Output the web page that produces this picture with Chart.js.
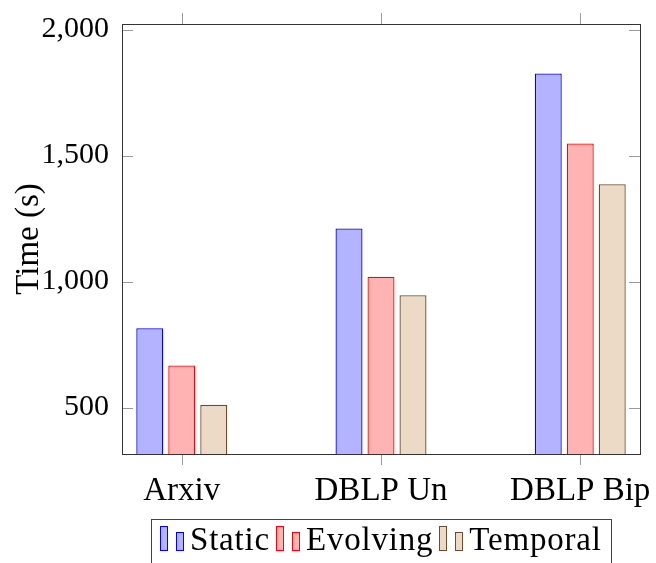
<!DOCTYPE html>
<html>
<head>
<meta charset="utf-8">
<script src="https://cdn.jsdelivr.net/npm/chart.js@4.4.1/dist/chart.umd.min.js"></script>
<style>
  html, body { margin: 0; padding: 0; background: #fff; }
  #wrap { position: relative; width: 656px; height: 563px; overflow: hidden; }
  #legend {
    position: absolute; left: 151px; top: 519px; width: 461px; height: 60px;
    border: 1px solid #444; box-sizing: border-box;
    font-family: "Liberation Serif", serif; font-size: 33px; color: #000;
    letter-spacing: 0.8px;
  }
  #legendRow {
    position: absolute; left: 8px; top: 0; height: 43px;
    display: flex; align-items: flex-end; white-space: nowrap;
  }
  .item { display: flex; align-items: flex-end; margin-right: 6px; }
  .b1, .b2 { box-sizing: border-box; width: 8px; border: 1px solid; margin-bottom: 12px; }
  .b1 { height: 25px; margin-right: 8px; }
  .b2 { height: 19px; margin-right: 6px; }
  .lbl { line-height: 33px; margin-bottom: 7px; }
</style>
</head>
<body>
<div id="wrap">
  <canvas id="c" width="656" height="563"></canvas>
  <div id="legend"><div id="legendRow"></div></div>
</div>
<script>
const categories = ["Arxiv", "DBLP Un", "DBLP Bip"];
const seriesNames = ["Static", "Evolving", "Temporal"];
const staticValues = [815, 1211, 1826];
const evolvingValues = [667, 1019, 1548];
const temporalValues = [511, 946, 1386];
const yTickValues = [500, 1000, 1500, 2000];
const yMin = 316, yMax = 2022;

const fills = ["#b3b3ff", "#ffb3b3", "#ecd9c6"];
const borders = ["#0000ff", "#ff0000", "#6e4c2a"];
const allValues = [staticValues, evolvingValues, temporalValues];

const datasets = allValues.map((vals, i) => ({
  label: seriesNames[i],
  data: vals.map((v, j) => ({ x: j, y: v })),
  backgroundColor: fills[i],
  borderColor: borders[i],
  borderWidth: 1.3,
  borderSkipped: 'start',
  barPercentage: 0.844,
  categoryPercentage: 0.4817
}));

const frame = {
  id: 'frame',
  afterDatasetsDraw(chart) {
    const { ctx, chartArea: a, scales } = chart;
    ctx.save();
    ctx.strokeStyle = '#9a9a9a';
    ctx.lineWidth = 1;
    ctx.beginPath();
    yTickValues.forEach(v => {
      const y = Math.round(scales.y.getPixelForValue(v)) + 0.5;
      ctx.moveTo(a.left, y); ctx.lineTo(a.left + 11, y);
      ctx.moveTo(a.right, y); ctx.lineTo(a.right - 11, y);
    });
    categories.forEach((c, j) => {
      const x = Math.round(scales.x.getPixelForValue(j)) + 0.5;
      ctx.moveTo(x, a.bottom); ctx.lineTo(x, a.bottom + 11);
      ctx.moveTo(x, a.top); ctx.lineTo(x, a.top - 11);
    });
    ctx.stroke();
    ctx.strokeStyle = '#333';
    ctx.lineWidth = 1;
    ctx.strokeRect(Math.round(a.left) + 0.5, Math.round(a.top) + 0.5,
                   Math.round(a.right - a.left), Math.round(a.bottom - a.top));
    ctx.restore();
  }
};

new Chart(document.getElementById('c'), {
  type: 'bar',
  data: { datasets },
  options: {
    responsive: false,
    animation: false,
    layout: { padding: { top: 24, right: 16, left: 0, bottom: 0 } },
    plugins: { legend: { display: false }, tooltip: { enabled: false } },
    scales: {
      x: {
        type: 'linear',
        min: -0.3, max: 2.3,
        offset: false,
        grid: { display: false, drawTicks: false },
        border: { display: false },
        afterBuildTicks: s => { s.ticks = categories.map((c, j) => ({ value: j })); },
        afterFit: s => { s.height = 109; s.paddingLeft = 0; s.paddingRight = 0; },
        ticks: {
          autoSkip: false, maxRotation: 0, padding: 18,
          color: '#000',
          font: { family: 'Liberation Serif', size: 33 },
          callback: v => categories[v]
        }
      },
      y: {
        min: yMin, max: yMax,
        grid: { display: false, drawTicks: false },
        border: { display: false },
        afterBuildTicks: s => { s.ticks = yTickValues.map(v => ({ value: v })); },
        afterFit: s => { s.width = 122; s.paddingTop = 0; s.paddingBottom = 0; },
        ticks: {
          padding: 13,
          color: '#000',
          font: { family: 'Liberation Serif', size: 30 },
          callback: v => v.toLocaleString('en-US')
        },
        title: {
          display: true, text: 'Time (s)', color: '#000',
          font: { family: 'Liberation Serif', size: 33 },
          padding: { top: 10, bottom: 0 }
        }
      }
    }
  },
  plugins: [frame]
});

const row = document.getElementById('legendRow');
seriesNames.forEach((n, i) => {
  const it = document.createElement('div');
  it.className = 'item';
  it.innerHTML = `<div class="b1" style="background:${fills[i]};border-color:${borders[i]}"></div>` +
                 `<div class="b2" style="background:${fills[i]};border-color:${borders[i]}"></div>` +
                 `<div class="lbl">${n}</div>`;
  row.appendChild(it);
});
</script>
</body>
</html>
